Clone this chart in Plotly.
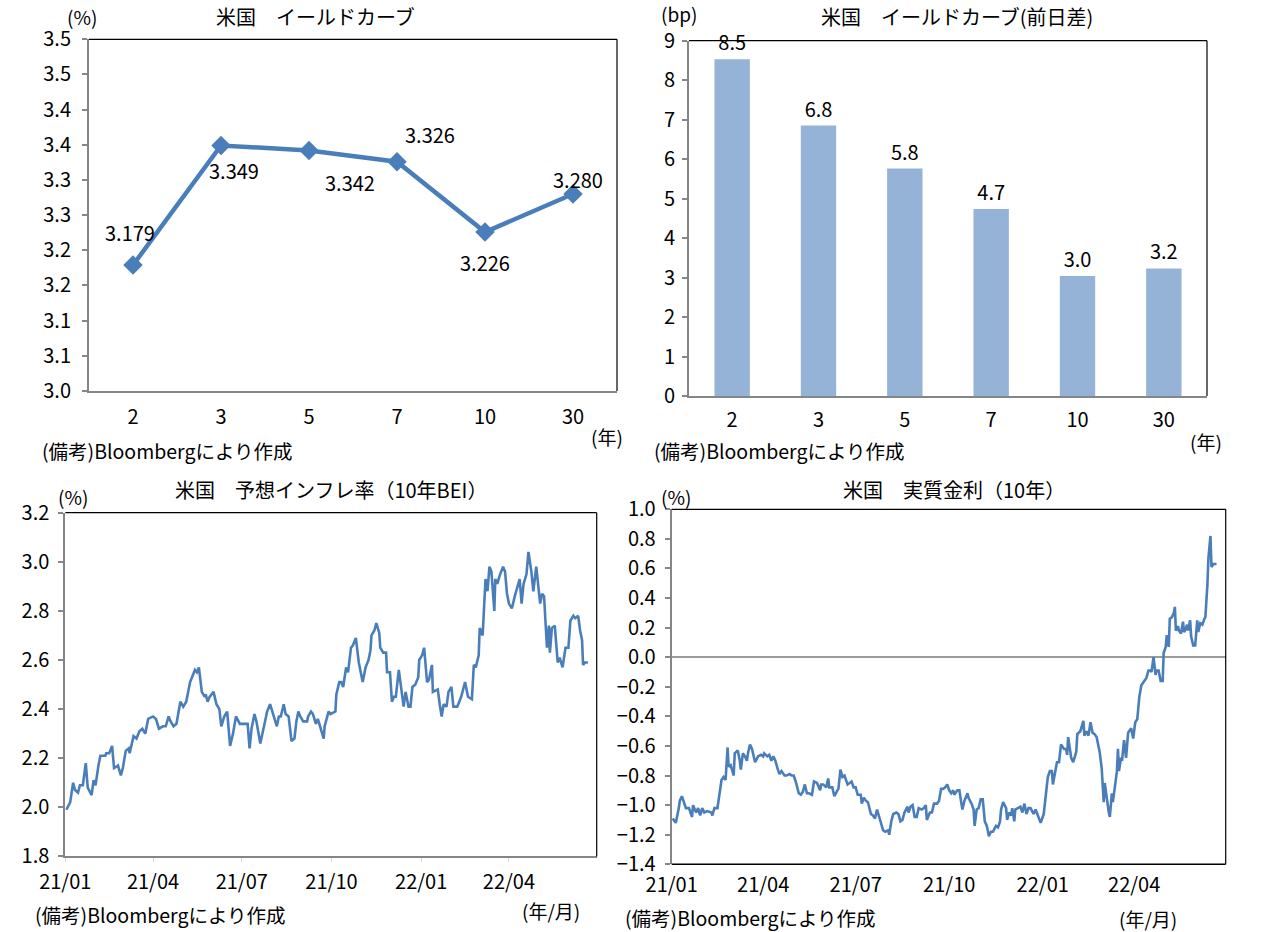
import pandas as pd
import plotly.graph_objects as go

FONT = "Noto Sans CJK JP"
LINE_BLUE = "#4A7EBB"
BAR_BLUE = "#95B3D7"
AXIS_GRAY = "#868686"
BLACK = "#000000"

# ---------------- Panel 1: US yield curve ----------------
curve_tenors = ["2", "3", "5", "7", "10", "30"]
curve_yields = [3.179, 3.349, 3.342, 3.326, 3.226, 3.280]
curve_labels = ["3.179", "3.349", "3.342", "3.326", "3.226", "3.280"]
curve_tickvals = [3.00, 3.05, 3.10, 3.15, 3.20, 3.25, 3.30, 3.35, 3.40, 3.45, 3.50]
curve_ticktext = ["3.0", "3.1", "3.1", "3.2", "3.2", "3.3", "3.3", "3.4", "3.4", "3.5", "3.5"]
curve_label_shift = [(-3, 33), (13, -25), (41, -32), (33, 27), (0, -30), (5, 15)]

# ---------------- Panel 2: daily change (bp) ----------------
diff_tenors = ["2", "3", "5", "7", "10", "30"]
diff_bp = [8.53, 6.85, 5.76, 4.74, 3.04, 3.23]

# ---------------- Panel 3: 10y BEI (days since 2021-01-01) ----------------
bei_days = [
    1, 5, 8, 10, 13, 15, 18, 21, 23, 27,
    29, 31, 34, 36, 41, 42, 45, 48, 50, 54,
    57, 59, 62, 65, 66, 70, 73, 76, 79, 82,
    85, 90, 93, 96, 100, 103, 106, 108, 111, 114,
    118, 121, 124, 126, 128, 131, 133, 135, 137, 140,
    143, 144, 146, 148, 152, 155, 158, 160, 163, 166,
    169, 172, 175, 179, 182, 187, 189, 191, 194, 196,
    200, 202, 205, 207, 210, 213, 215, 217, 219, 221,
    224, 226, 229, 232, 235, 237, 239, 241, 244, 248,
    249, 252, 254, 257, 259, 261, 265, 266, 270, 272,
    277, 278, 281, 283, 285, 288, 290, 293, 295, 298,
    301, 305, 308, 311, 313, 314, 317, 319, 322, 323,
    326, 329, 330, 333, 335, 337, 339, 342, 344, 347,
    349, 352, 354, 356, 359, 362, 363, 366, 368, 371,
    373, 376, 377, 382, 384, 386, 388, 391, 393, 396,
    398, 402, 406, 410, 413, 417, 419, 421, 424, 425,
    428, 430, 431, 433, 435, 437, 440, 441, 443, 446,
    449, 451, 453, 455, 458, 461, 463, 466, 468, 470,
    473, 475, 478, 480, 483, 485, 487, 489, 491, 494,
    496, 497, 499, 502, 505, 507, 510, 513, 516, 518,
    521, 523, 526, 528, 530, 531, 533, 536,
]
bei_vals = [
    1.99, 2.02, 2.10, 2.07, 2.06, 2.09, 2.09, 2.18, 2.08, 2.05,
    2.11, 2.09, 2.17, 2.21, 2.21, 2.22, 2.22, 2.25, 2.16, 2.17,
    2.13, 2.16, 2.23, 2.24, 2.22, 2.29, 2.28, 2.31, 2.32, 2.30,
    2.36, 2.37, 2.36, 2.32, 2.33, 2.33, 2.37, 2.35, 2.33, 2.34,
    2.43, 2.41, 2.43, 2.47, 2.51, 2.54, 2.56, 2.55, 2.57, 2.47,
    2.45, 2.46, 2.43, 2.45, 2.47, 2.42, 2.40, 2.33, 2.37, 2.39,
    2.25, 2.30, 2.37, 2.34, 2.34, 2.34, 2.24, 2.32, 2.38, 2.35,
    2.26, 2.30, 2.36, 2.39, 2.42, 2.38, 2.36, 2.33, 2.37, 2.37,
    2.42, 2.38, 2.37, 2.27, 2.28, 2.35, 2.39, 2.37, 2.35, 2.35,
    2.37, 2.39, 2.38, 2.34, 2.36, 2.33, 2.28, 2.33, 2.39, 2.38,
    2.39, 2.46, 2.51, 2.51, 2.49, 2.57, 2.55, 2.65, 2.66, 2.69,
    2.59, 2.51, 2.57, 2.60, 2.64, 2.70, 2.72, 2.75, 2.71, 2.65,
    2.63, 2.63, 2.55, 2.55, 2.43, 2.45, 2.45, 2.56, 2.49, 2.41,
    2.47, 2.41, 2.41, 2.49, 2.50, 2.53, 2.60, 2.62, 2.65, 2.51,
    2.52, 2.58, 2.47, 2.48, 2.42, 2.37, 2.42, 2.41, 2.47, 2.49,
    2.41, 2.41, 2.45, 2.51, 2.45, 2.44, 2.58, 2.57, 2.62, 2.73,
    2.70, 2.83, 2.93, 2.88, 2.98, 2.96, 2.80, 2.93, 2.91, 2.95,
    2.98, 2.96, 2.87, 2.83, 2.81, 2.86, 2.89, 2.93, 2.83, 2.91,
    2.95, 3.04, 2.96, 2.88, 2.98, 2.89, 2.83, 2.87, 2.86, 2.65,
    2.74, 2.63, 2.73, 2.74, 2.59, 2.61, 2.57, 2.65, 2.65, 2.76,
    2.78, 2.77, 2.78, 2.72, 2.68, 2.58, 2.59, 2.59,
]

# ---------------- Panel 4: 10y real yield (days since 2021-01-01) ----------------
real_days = [
    1, 4, 7, 8, 10, 12, 14, 17, 20, 21,
    24, 26, 28, 30, 32, 35, 39, 40, 42, 45,
    47, 49, 51, 53, 55, 56, 58, 61, 62, 65,
    67, 68, 70, 72, 74, 75, 77, 79, 82, 85,
    88, 90, 91, 94, 96, 98, 100, 102, 104, 106,
    108, 111, 113, 116, 118, 120, 122, 125, 127, 129,
    131, 133, 135, 138, 140, 143, 146, 147, 149, 152,
    154, 155, 158, 160, 163, 164, 166, 168,
    170, 173, 177, 179, 181, 183, 186, 187, 189, 191,
    193, 196, 198, 200, 202, 205, 206, 208, 210, 213,
    214, 216, 218, 221, 223, 225, 227, 229, 232, 233,
    235, 237, 239, 241, 243, 246, 248, 250, 251, 254,
    256, 258, 261, 263, 265, 267, 269, 271, 273, 275,
    277, 278, 281, 283, 285, 286, 288, 291, 292, 295,
    297, 298, 300, 302, 304, 306, 308, 310, 312, 314,
    316, 319, 321, 323, 324, 326, 329, 330, 332, 334,
    335, 337, 338, 341, 343, 345, 347, 349, 351,
    353, 356, 358, 360, 363, 366, 368, 370, 372, 374,
    375, 377, 379, 381, 383, 386, 388, 389, 390, 393,
    395, 398, 399, 402, 403, 405, 406, 408, 410, 412,
    414, 416, 418, 420, 421, 423, 424, 425, 426, 428,
    430, 431, 433, 434, 436, 438, 439, 440, 442, 443,
    445, 447, 449, 451, 452, 454, 456, 458, 460, 462,
    464, 467, 469, 471, 472, 474, 476, 477, 479, 481,
    483, 484, 486, 487, 489, 490, 492, 494, 495, 496,
    498, 499, 501, 503, 504, 505, 507, 508, 510, 511,
    513, 515, 517, 518, 520, 522, 524, 525, 527, 528,
    530, 531, 533, 536,
]
real_vals = [
    -1.09, -1.12, -1.02, -0.97, -0.94, -0.98, -1.02, -1.02, -1.08, -1.00,
    -1.05, -1.02, -1.07, -1.02, -1.05, -1.04, -1.05, -1.07, -1.02, -1.02,
    -0.93, -0.83, -0.81, -0.83, -0.61, -0.74, -0.73, -0.80, -0.65, -0.63,
    -0.70, -0.76, -0.65, -0.67, -0.70, -0.65, -0.59, -0.62, -0.71, -0.67,
    -0.66, -0.67, -0.65, -0.67, -0.66, -0.70, -0.67, -0.70, -0.75, -0.79,
    -0.77, -0.80, -0.80, -0.79, -0.80, -0.80, -0.84, -0.92, -0.93, -0.91,
    -0.86, -0.92, -0.92, -0.93, -0.84, -0.85, -0.90, -0.86, -0.86, -0.88,
    -0.82, -0.88, -0.88, -0.94, -0.90, -0.89, -0.76, -0.81,
    -0.80, -0.86, -0.84, -0.88, -0.88, -0.93, -0.93, -0.99, -0.95, -0.97,
    -0.98, -1.06, -1.07, -1.09, -1.03, -1.10, -1.12, -1.17, -1.18, -1.17,
    -1.20, -1.11, -1.06, -1.05, -1.06, -1.11, -1.10, -1.05, -1.01, -1.05,
    -1.01, -1.00, -1.08, -1.08, -1.02, -1.03, -1.02, -1.00, -1.10, -1.05,
    -1.05, -0.99, -0.99, -0.97, -0.89, -0.89, -0.88, -0.86, -0.90, -0.92,
    -0.90, -0.93, -0.90, -0.90, -0.99, -1.03, -0.97, -0.92, -0.95, -0.99,
    -1.03, -1.14, -1.03, -1.02, -0.96, -0.96, -1.11, -1.14, -1.21, -1.18,
    -1.18, -1.14, -1.15, -1.11, -1.03, -0.98, -1.02, -1.10, -1.05, -1.07,
    -1.02, -1.11, -1.03, -1.02, -1.01, -1.05, -0.99, -1.06, -1.02,
    -1.02, -1.06, -1.03, -1.07, -1.12, -1.06, -0.94, -0.81, -0.77, -0.77,
    -0.86, -0.77, -0.71, -0.71, -0.59, -0.62, -0.62, -0.66, -0.54, -0.68,
    -0.71, -0.64, -0.52, -0.50, -0.47, -0.43, -0.53, -0.50, -0.53, -0.44,
    -0.51, -0.52, -0.54, -0.60, -0.64, -0.75, -0.85, -0.98, -0.85, -0.97,
    -1.05, -1.08, -0.92, -0.98, -0.86, -0.77, -0.62, -0.77, -0.68, -0.70,
    -0.56, -0.68, -0.51, -0.49, -0.48, -0.55, -0.44, -0.42, -0.27, -0.19,
    -0.17, -0.14, -0.09, -0.09, -0.10, 0.00, -0.12, -0.09, -0.09, -0.16,
    -0.16, 0.03, 0.07, 0.15, 0.07, 0.26, 0.27, 0.30, 0.34, 0.18,
    0.21, 0.18, 0.16, 0.24, 0.17, 0.18, 0.22, 0.18, 0.25, 0.14,
    0.08, 0.08, 0.25, 0.17, 0.23, 0.22, 0.26, 0.27, 0.49, 0.67,
    0.82, 0.61, 0.63, 0.63,
]

date_ticks = ["2021-01-01", "2021-04-01", "2021-07-01", "2021-10-01", "2022-01-01", "2022-04-01"]
date_range = ["2021-01-01", "2022-06-30"]

assert len(bei_days) == len(bei_vals)
assert len(real_days) == len(real_vals)

base = pd.Timestamp("2021-01-01")
bei_dates = base + pd.to_timedelta(bei_days, unit="D")
real_dates = base + pd.to_timedelta(real_days, unit="D")

W, H = 1266, 932


def px(x):
    return x / W


def py(y):
    return 1 - y / H


fig = go.Figure()

fig.add_trace(go.Scatter(
    x=curve_tenors, y=curve_yields, mode="lines+markers",
    line=dict(color=LINE_BLUE, width=4.5),
    marker=dict(symbol="diamond", size=15, color=LINE_BLUE),
    xaxis="x", yaxis="y", hoverinfo="skip",
))

fig.add_trace(go.Bar(
    x=diff_tenors, y=diff_bp, marker=dict(color=BAR_BLUE, line=dict(width=0)),
    texttemplate="%{y:.1f}", textposition="outside", cliponaxis=False,
    constraintext="none",
    textfont=dict(family=FONT, size=20, color=BLACK),
    xaxis="x2", yaxis="y2", hoverinfo="skip",
))

fig.add_trace(go.Scatter(
    x=bei_dates, y=bei_vals, mode="lines",
    line=dict(color=LINE_BLUE, width=2.6),
    xaxis="x3", yaxis="y3", hoverinfo="skip",
))

fig.add_trace(go.Scatter(
    x=real_dates, y=real_vals, mode="lines",
    line=dict(color=LINE_BLUE, width=2.6),
    xaxis="x4", yaxis="y4", hoverinfo="skip",
))

tickfont = dict(family=FONT, size=20, color=BLACK)

common_y = dict(
    showgrid=False, zeroline=False, showline=True, linecolor=AXIS_GRAY, linewidth=2,
    ticks="outside", ticklen=5, tickcolor=AXIS_GRAY, tickwidth=1.5, tickfont=tickfont,
    fixedrange=True, automargin=False,
)
common_x = dict(
    showgrid=False, zeroline=False, showline=True, linecolor=AXIS_GRAY, linewidth=2,
    tickfont=tickfont, fixedrange=True, automargin=False,
)

fig.update_layout(
    width=W, height=H,
    margin=dict(l=0, r=0, t=0, b=0, autoexpand=False),
    paper_bgcolor="white", plot_bgcolor="white",
    showlegend=False,
    font=dict(family=FONT, color=BLACK),
    bargap=0.59,
    xaxis=dict(common_x, domain=[px(89), px(617)], anchor="y", type="category",
               range=[-0.5, 5.5], ticks="", ticklabelstandoff=7),
    yaxis=dict(common_y, domain=[py(391), py(39.3)], anchor="x", range=[3.0, 3.5],
               tickvals=curve_tickvals, ticktext=curve_ticktext, ticklabelstandoff=7),
    xaxis2=dict(common_x, domain=[px(689), px(1207)], anchor="y2", type="category",
                range=[-0.5, 5.5], ticks="", ticklabelstandoff=5),
    yaxis2=dict(common_y, domain=[py(396), py(40.7)], anchor="x2", range=[0, 9],
                dtick=1, tick0=0, ticklabelstandoff=3),
    xaxis3=dict(common_x, domain=[px(65.3), px(596.7)], anchor="y3", type="date",
                range=date_range, tickvals=date_ticks, tickformat="%y/%m",
                ticks="outside", ticklen=4, tickcolor="#D9D9D9", ticklabelstandoff=3),
    yaxis3=dict(common_y, domain=[py(856.4), py(512.7)], anchor="x3", range=[1.8, 3.2],
                dtick=0.2, tick0=1.8, tickformat=".1f", ticklabelstandoff=5),
    xaxis4=dict(common_x, domain=[px(671.7), px(1225.7)], anchor="y4", type="date",
                range=date_range, tickvals=date_ticks, tickformat="%y/%m",
                showline=False, ticks="", ticklabelstandoff=7),
    yaxis4=dict(common_y, domain=[py(864.3), py(509.3)], anchor="x4", range=[-1.4, 1.0],
                dtick=0.2, tick0=-1.4, tickformat=".1f", zeroline=True,
                zerolinecolor="#9A9A9A", zerolinewidth=2, ticklabelstandoff=5),
)

shapes = []
# top + right borders (black) for all panels
for xa, ya in [("x", "y"), ("x2", "y2"), ("x3", "y3"), ("x4", "y4")]:
    shapes.append(dict(type="line", xref=f"{xa} domain", yref=f"{ya} domain",
                       x0=0, x1=1, y0=1, y1=1, line=dict(color=BLACK, width=1.2)))
    shapes.append(dict(type="line", xref=f"{xa} domain", yref=f"{ya} domain",
                       x0=1, x1=1, y0=0, y1=1, line=dict(color=BLACK, width=1.2)))
# bottom border of panel 4
shapes.append(dict(type="line", xref="x4 domain", yref="y4 domain",
                   x0=0, x1=1, y0=0, y1=0, line=dict(color=BLACK, width=1.5)))
fig.update_layout(shapes=shapes)

ann = []

# data labels for yield curve (x given as category index on the category axis)
for i, (v, lab, (dx, dy)) in enumerate(zip(curve_yields, curve_labels, curve_label_shift)):
    ann.append(dict(x=i, y=v, xref="x", yref="y", text=lab, showarrow=False,
                    xshift=dx, yshift=dy, font=dict(family=FONT, size=20, color=BLACK)))


def text(x, y, s, size=20, xanchor="center"):
    ann.append(dict(x=px(x), y=py(y), xref="paper", yref="paper", text=s,
                    showarrow=False, xanchor=xanchor, yanchor="middle",
                    font=dict(family=FONT, size=size, color=BLACK)))


NOTE = "(備考)Bloombergにより作成"

# Panel 1
text(315, 17, "米国　イールドカーブ")
text(82, 16, "(%)", size=19)
text(607, 436, "(年)", size=19)
text(40, 451, NOTE, size=19.5, xanchor="left")
# Panel 2
text(957, 16, "米国　イールドカーブ(前日差)")
text(679, 14, "(bp)", size=19)
text(1206, 441, "(年)", size=19)
text(652, 451, NOTE, size=19.5, xanchor="left")
# Panel 3
text(331, 489, "米国　予想インフレ率（10年BEI）")
text(73, 496, "(%)", size=19)
text(551, 910, "(年/月)", size=19)
text(33, 914, NOTE, size=19.5, xanchor="left")
# Panel 4
text(954, 490, "米国　実質金利（10年）")
text(676, 496, "(%)", size=19)
text(1148, 918, "(年/月)", size=19)
text(623, 917, NOTE, size=19.5, xanchor="left")

fig.update_layout(annotations=ann)

fig.write_html("out.html")
